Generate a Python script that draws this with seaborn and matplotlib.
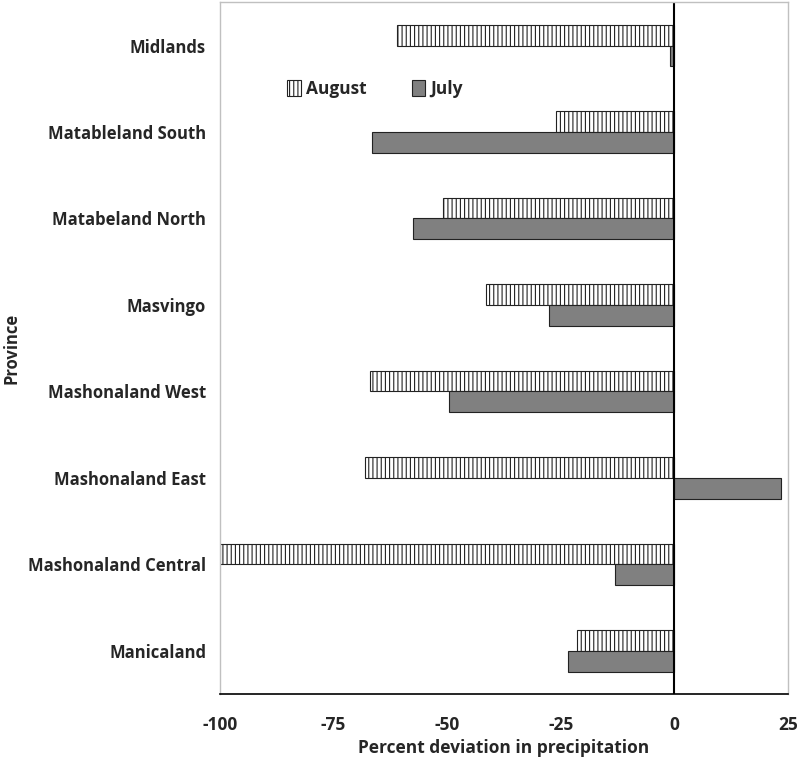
import pandas as pd
import matplotlib
matplotlib.use("Agg")
import matplotlib.pyplot as plt
from matplotlib.patches import Patch
import seaborn as sb

provinces = ["Midlands", "Matableland South", "Matabeland North", "Masvingo",
             "Mashonaland West", "Mashonaland East", "Mashonaland Central", "Manicaland"]
august = [-61, -26, -51, -41.5, -67, -68, -100, -21.5]
july = [-1, -66.5, -57.5, -27.5, -49.5, 23.5, -13, -23.5]

df = pd.DataFrame({
    "Province": provinces * 2,
    "Mois": ["August"] * len(provinces) + ["July"] * len(provinces),
    "Deviation": august + july,
})

sb.set_style("white")
plt.rcParams["font.family"] = ["Open Sans", "DejaVu Sans"]
plt.rcParams["hatch.linewidth"] = 0.8
plt.rcParams["axes.unicode_minus"] = False

fig = plt.figure(figsize=(8, 7.57), dpi=100)
ax = fig.add_axes([0.275, 0.083, 0.71, 0.914])

sb.barplot(data=df, y="Province", x="Deviation", hue="Mois", order=provinces,
           hue_order=["August", "July"], palette={"August": "white", "July": "#808080"},
           width=0.48, edgecolor="#222222", linewidth=0.8, ax=ax, legend=False)

# hachures verticales pour August
for bar in ax.containers[0]:
    bar.set_hatch("||||")

ax.axvline(0, color="black", lw=1.5)
ax.set_xlim(-100, 25)
ax.set_xticks([-100, -75, -50, -25, 0, 25])
ax.set_xlabel("Percent deviation in precipitation", fontsize=12.5, fontweight="bold", labelpad=3)
ax.set_ylabel("Province", fontsize=12, fontweight="bold")
ax.yaxis.set_label_coords(-0.352, 0.5)
ax.tick_params(axis="x", length=0, labelsize=12.5, pad=16)
ax.tick_params(axis="y", length=0, labelsize=12, pad=10)
for lab in ax.get_xticklabels() + ax.get_yticklabels():
    lab.set_fontweight("bold")

for s in ["left", "top", "right"]:
    ax.spines[s].set_color("#c0c0c0")
    ax.spines[s].set_linewidth(1)
ax.spines["bottom"].set_color("black")
ax.spines["bottom"].set_linewidth(1.2)

handles = [Patch(facecolor="white", edgecolor="#222222", hatch="||||", linewidth=0.8, label="August"),
           Patch(facecolor="#808080", edgecolor="#222222", linewidth=0.8, label="July")]
ax.legend(handles=handles, loc="upper left", bbox_to_anchor=(0.09, 0.91), ncol=2, frameon=False,
          handlelength=0.8, handleheight=1.0, columnspacing=2.6, handletextpad=0.3,
          prop={"weight": "bold", "size": 12.5})

plt.savefig("out.png", dpi=100)
